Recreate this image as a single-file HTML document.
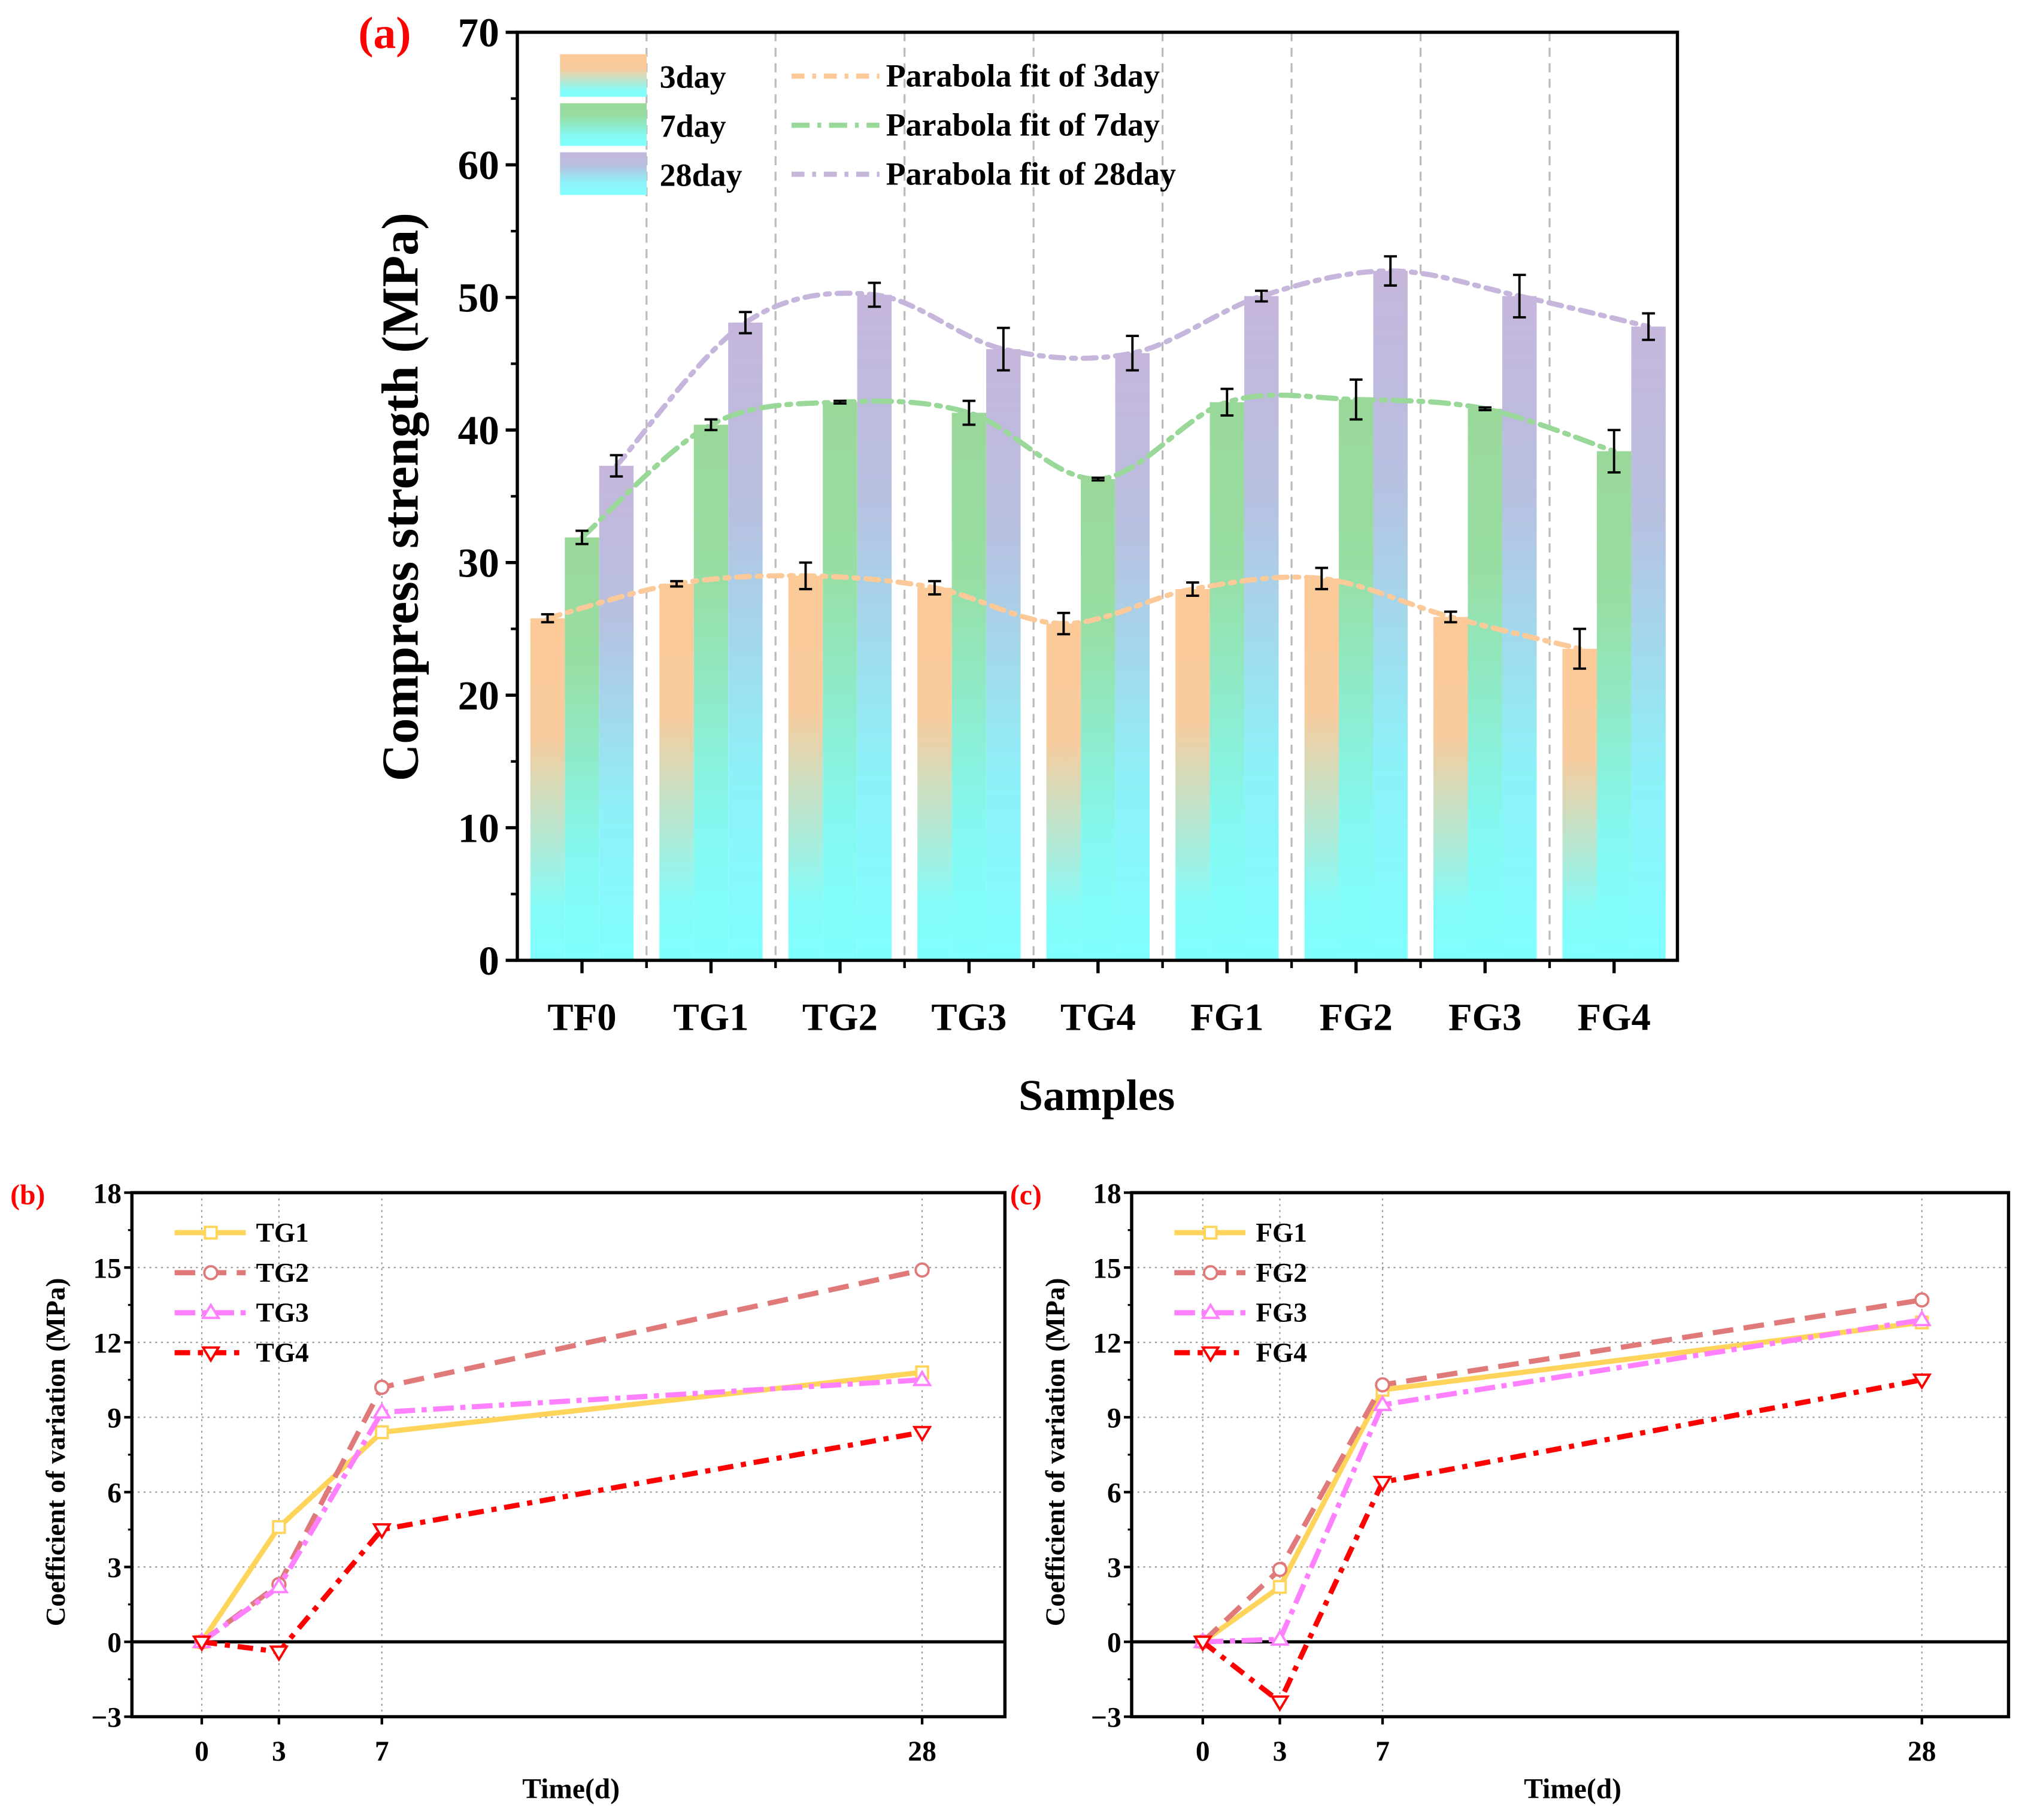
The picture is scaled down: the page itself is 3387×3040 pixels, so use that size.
<!DOCTYPE html>
<html><head><meta charset="utf-8">
<style>html,body{margin:0;padding:0;background:#fff}svg{display:block}text{font-family:"Liberation Serif",serif;font-weight:bold}</style>
</head><body>
<svg id="s" xmlns="http://www.w3.org/2000/svg" width="3387" height="3040" viewBox="0 0 3387 3040">
<defs>
<linearGradient id="g3" x1="0" y1="0" x2="0" y2="1"><stop offset="0" stop-color="#fcc998"/><stop offset="0.35" stop-color="#f8cc9e"/><stop offset="0.85" stop-color="#84fbf8"/><stop offset="1" stop-color="#80ffff"/></linearGradient>
<linearGradient id="g7" x1="0" y1="0" x2="0" y2="1"><stop offset="0" stop-color="#9ad89a"/><stop offset="0.3" stop-color="#98dea4"/><stop offset="0.75" stop-color="#84f8f0"/><stop offset="1" stop-color="#80ffff"/></linearGradient>
<linearGradient id="g28" x1="0" y1="0" x2="0" y2="1"><stop offset="0" stop-color="#c6b6dc"/><stop offset="0.3" stop-color="#b8c0e0"/><stop offset="0.7" stop-color="#8ef0f8"/><stop offset="1" stop-color="#80ffff"/></linearGradient>
</defs>
<g id="root" transform="scale(2.16,2.156)"></g>
</svg>
<script>
const categories=["TF0","TG1","TG2","TG3","TG4","FG1","FG2","FG3","FG4"];
const day3=[25.8,28.4,29.0,28.1,25.4,28.0,28.8,25.9,23.5];
const day3Err=[0.3,0.2,1.0,0.5,0.8,0.5,0.8,0.4,1.5];
const day7=[31.9,40.4,42.1,41.3,36.3,42.1,42.3,41.6,38.4];
const day7Err=[0.5,0.4,0.1,0.9,0.1,1.0,1.5,0.1,1.6];
const day28=[37.3,48.1,50.2,46.1,45.8,50.1,52.0,50.1,47.8];
const day28Err=[0.8,0.8,0.9,1.6,1.3,0.4,1.1,1.6,1.0];
const yTicksA=[0,10,20,30,40,50,60,70];
const timeDays=[0,3,7,28];
const TG1=[0,4.6,8.4,10.8],TG2=[0,2.3,10.2,14.9],TG3=[0,2.2,9.2,10.5],TG4=[0,-0.4,4.5,8.4];
const FG1=[0,2.2,10.1,12.8],FG2=[0,2.9,10.3,13.7],FG3=[0,0.1,9.5,12.9],FG4=[0,-2.4,6.4,10.5];
const yTicksB=[-3,0,3,6,9,12,15,18];

const NS="http://www.w3.org/2000/svg";
const root=document.getElementById('root');
function el(tag,attrs,parent,txt){const e=document.createElementNS(NS,tag);for(const k in attrs)e.setAttribute(k,attrs[k]);if(txt!==undefined)e.textContent=txt;(parent||root).appendChild(e);return e;}
function spline(pts){let d=`M${pts[0][0]},${pts[0][1]}`;for(let i=0;i<pts.length-1;i++){const p0=pts[i-1]||pts[i],p1=pts[i],p2=pts[i+1],p3=pts[i+2]||p2;d+=`C${p1[0]+(p2[0]-p0[0])/6},${p1[1]+(p2[1]-p0[1])/6} ${p2[0]-(p3[0]-p1[0])/6},${p2[1]-(p3[1]-p1[1])/6} ${p2[0]},${p2[1]}`;}return d;}

// ---- Panel A ----
const AL=400,AR=1297,AT=25,AB=744;
const ay=v=>AB-(v/70)*(AB-AT);
const cx=i=>450+99.75*i;
const BW=26.6;
const gA=el('g',{});


for(let i=0;i<categories.length-1;i++){const x=cx(i)+49.9;const l=el('line',{x1:x,x2:x,y1:AT,y2:AB,stroke:'#bbb','stroke-width':1.5,'stroke-dasharray':'7,5'},gA);}
const series=[[day3,day3Err,'url(#g3)',-1,'#fcc998','3day'],[day7,day7Err,'url(#g7)',0,'#9ad89a','7day'],[day28,day28Err,'url(#g28)',1,'#c6b6dc','28day']];
series.forEach(([vals,errs,fill,off,col,nm])=>{
 vals.forEach((v,i)=>{const x=cx(i)+off*BW-BW/2;const r=el('rect',{x:x,y:ay(v),width:BW,height:AB-ay(v),fill:fill},gA);});
});
series.forEach(([vals,errs,fill,off,col,nm],si)=>{
 const pts=vals.map((v,i)=>[cx(i)+off*BW,ay(v)]);
 const dash=si==1?'14,6,3,6':'10,6,3,6';
 const p=el('path',{d:spline(pts),fill:'none',stroke:col,'stroke-width':4,'stroke-dasharray':dash,'stroke-linecap':'round'},gA);
});
series.forEach(([vals,errs,fill,off,col,nm])=>{
 vals.forEach((v,i)=>{const x=cx(i)+off*BW;const e=el('path',{d:`M${x},${ay(v+errs[i])}V${ay(v-errs[i])}M${x-5},${ay(v+errs[i])}h10M${x-5},${ay(v-errs[i])}h10`,stroke:'#000','stroke-width':1.8,fill:'none'},gA);});
});
el('rect',{x:AL,y:AT,width:AR-AL,height:AB-AT,fill:'none',stroke:'#000','stroke-width':2.5},gA);
yTicksA.forEach(t=>{const y=ay(t);el('line',{x1:AL-9,x2:AL,y1:y,y2:y,stroke:'#000','stroke-width':2.5},gA);const tx=el('text',{x:AL-14,y:y+11,'font-size':32,'text-anchor':'end'},gA,t);if(t<70)el('line',{x1:AL-5,x2:AL,y1:ay(t+5),y2:ay(t+5),stroke:'#000','stroke-width':2},gA);});
categories.forEach((c,i)=>{el('line',{x1:cx(i),x2:cx(i),y1:AB,y2:AB+10,stroke:'#000','stroke-width':2.5},gA);const t=el('text',{x:cx(i),y:798,'font-size':30,'text-anchor':'middle'},gA,c);
 if(i<categories.length-1)el('line',{x1:cx(i)+49.9,x2:cx(i)+49.9,y1:AB,y2:AB+6,stroke:'#000','stroke-width':2},gA);});
let t=el('text',{x:848,y:860,'font-size':34,'text-anchor':'middle'},gA,'Samples');
t=el('text',{x:0,y:0,'font-size':40,'text-anchor':'middle',transform:'translate(323,385) rotate(-90)'},gA,'Compress strength (MPa)');
t=el('text',{x:277,y:37,'font-size':35,fill:'#ff0000'},gA,'(a)');
// legend
const lg=el('g',{},gA);
[['url(#g3)','3day',42,'#fcc998','10,6,3,6'],['url(#g7)','7day',80,'#9ad89a','14,6,3,6'],['url(#g28)','28day',118,'#c6b6dc','10,6,3,6']].forEach(([f,n,y,c,d])=>{
 el('rect',{x:433,y:y,width:67,height:33,fill:f},lg);
 const a=el('text',{x:510,y:y+26,'font-size':25},lg,n);
 el('line',{x1:612,x2:680,y1:y+17,y2:y+17,stroke:c,'stroke-width':4,'stroke-dasharray':d},lg);
 const b=el('text',{x:685,y:y+25,'font-size':25},lg,'Parabola fit of '+n);
});

// ---- Panels B & C ----
function marker(g,si,x,y,col){let m;
 if(si==0)m=el('rect',{x:x-4.5,y:y-4.5,width:9,height:9,fill:'#fff',stroke:col,'stroke-width':1.8},g);
 else if(si==1)m=el('circle',{cx:x,cy:y,r:5,fill:'#fff',stroke:col,'stroke-width':1.8},g);
 else if(si==2)m=el('path',{d:`M${x},${y-6}L${x+6},${y+4}L${x-6},${y+4}Z`,fill:'#fff',stroke:col,'stroke-width':1.8},g);
 else m=el('path',{d:`M${x},${y+6}L${x+6},${y-4}L${x-6},${y-4}Z`,fill:'#fff',stroke:col,'stroke-width':1.8},g);
 return m;}
function small(L,R,label,names,data,off0,pid){
 const T=924,B=1330,x0=off0,xs=(R===777?(713-156):(1486-930))/28;
 const px=d=>x0+d*xs, py=v=>B-(v+3)/21*(B-T);
 const g=el('g',{});
 yTicksB.forEach(v=>{if(v>-3&&v<18&&v!==0)el('line',{x1:L,x2:R,y1:py(v),y2:py(v),stroke:'#999','stroke-width':1,'stroke-dasharray':'1.5,3'},g);});
 timeDays.forEach(d=>el('line',{x1:px(d),x2:px(d),y1:T,y2:B,stroke:'#999','stroke-width':1,'stroke-dasharray':'1.5,3'},g));
 el('line',{x1:L,x2:R,y1:py(0),y2:py(0),stroke:'#000','stroke-width':2.5},g);
 const cols=['#ffd45a','#e07a7a','#ff80ff','#ff0000'];
 const dashes=['none','16,8','16,5,4,5','12,6,4,6'];
 data.forEach((vals,si)=>{
  const pts=vals.map((v,i)=>px(timeDays[i])+','+py(v)).join(' ');
  const l=el('polyline',{points:pts,fill:'none',stroke:cols[si],'stroke-width':4,'stroke-dasharray':dashes[si]},g);
  vals.forEach((v,i)=>{const m=marker(g,si,px(timeDays[i]),py(v),cols[si]);
   });
  const ly=955+si*31;
  el('line',{x1:L+33,x2:L+88,y1:ly,y2:ly,stroke:cols[si],'stroke-width':4,'stroke-dasharray':dashes[si]},g);
  marker(g,si,L+61,ly,cols[si]);
  const lt=el('text',{x:L+96,y:ly+7,'font-size':21},g,names[si]);
 });
 el('rect',{x:L,y:T,width:R-L,height:B-T,fill:'none',stroke:'#000','stroke-width':2.5},g);
 yTicksB.forEach(v=>{el('line',{x1:L-6,x2:L,y1:py(v),y2:py(v),stroke:'#000','stroke-width':2},g);if(v<18)el('line',{x1:L-3,x2:L,y1:py(v+1.5),y2:py(v+1.5),stroke:'#000','stroke-width':1.5},g);
  const tx=el('text',{x:L-8,y:py(v)+8,'font-size':22,'text-anchor':'end'},g,v<0?'\u2212'+(-v):v);});
 timeDays.forEach(d=>{el('line',{x1:px(d),x2:px(d),y1:B,y2:B+6,stroke:'#000','stroke-width':2},g);const tx=el('text',{x:px(d),y:B+34,'font-size':22,'text-anchor':'middle'},g,d);});
 let a=el('text',{x:(L+R)/2+2,y:1393,'font-size':22,'text-anchor':'middle'},g,'Time(d)');
 a=el('text',{x:0,y:0,'font-size':21,'text-anchor':'middle',transform:`translate(${L-52},1125) rotate(-90)`},g,'Coefficient of variation (MPa)');
 a=el('text',{x:L-94,y:933,'font-size':22,fill:'#ff0000'},g,label);
}
small(102,777,'(b)',['TG1','TG2','TG3','TG4'],[TG1,TG2,TG3,TG4],156,'b');
small(875,1553,'(c)',['FG1','FG2','FG3','FG4'],[FG1,FG2,FG3,FG4],930,'c');
</script>
</body></html>
